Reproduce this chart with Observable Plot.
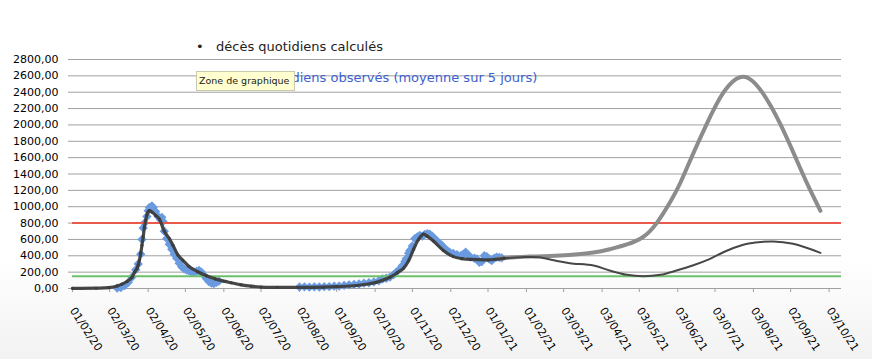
<!DOCTYPE html>
<html><head><meta charset="utf-8">
<script src="https://cdn.jsdelivr.net/npm/d3@7"></script>
<script src="https://cdn.jsdelivr.net/npm/@observablehq/plot@0.6"></script>
<style>
body{margin:0;background:#fff;}
#wrap{position:relative;width:872px;height:359px;overflow:hidden;background:linear-gradient(to bottom,#ffffff 0%,#ffffff 72%,#f2f2f2 100%);font-family:"DejaVu Sans",sans-serif;}
#chart{position:absolute;left:0;top:0;}
.leg{position:absolute;font-size:13px;line-height:16px;white-space:nowrap;}
#tip{position:absolute;left:196px;top:71px;width:95px;height:18px;background:#ffffcf;border:1px solid #c9c9b0;font-size:9.5px;line-height:18px;padding-left:2px;color:#222;white-space:nowrap;box-sizing:content-box;}
</style></head>
<body>
<div id="wrap">
  <div id="chart"></div>
  <div class="leg" style="left:196px;top:39px;color:#222;"><span style="display:inline-block;width:20px;">&#8226;</span>décès quotidiens calculés</div>
  <div class="leg" style="left:196px;top:70px;color:#3d5fcf;"><span style="display:inline-block;width:20px;">&#9670;</span>décès quotidiens observés (moyenne sur 5 jours)</div>
  <div id="tip">Zone de graphique</div>
</div>
<script>
// ---- Axis ticks ----
const xTickDates = ["2020-02-01","2020-03-02","2020-04-02","2020-05-02","2020-06-02","2020-07-02","2020-08-02","2020-09-01","2020-10-02","2020-11-01","2020-12-02","2021-01-01","2021-02-01","2021-03-03","2021-04-03","2021-05-03","2021-06-03","2021-07-03","2021-08-03","2021-09-02","2021-10-03"];
const xTickLabels = ["01/02/20","02/03/20","02/04/20","02/05/20","02/06/20","02/07/20","02/08/20","01/09/20","02/10/20","01/11/20","02/12/20","01/01/21","01/02/21","03/03/21","03/04/21","03/05/21","03/06/21","03/07/21","03/08/21","02/09/21","03/10/21"];
const yTicks = [0,200,400,600,800,1000,1200,1400,1600,1800,2000,2200,2400,2600,2800];
const thresholds = [800, 150];

// ---- Series: décès quotidiens calculés ----
const calcDates = ["2020-02-01","2020-02-20","2020-03-01","2020-03-08","2020-03-12","2020-03-16","2020-03-20","2020-03-22","2020-03-24","2020-03-25","2020-03-26","2020-03-27","2020-03-28","2020-03-29","2020-03-30","2020-03-31","2020-04-01","2020-04-02","2020-04-03","2020-04-05","2020-04-08","2020-04-11","2020-04-15","2020-04-19","2020-04-22","2020-04-26","2020-04-30","2020-05-05","2020-05-12","2020-05-19","2020-05-26","2020-06-02","2020-06-08","2020-06-16","2020-06-24","2020-07-02","2020-07-15","2020-08-01","2020-08-21","2020-09-01","2020-09-17","2020-10-03","2020-10-14","2020-10-20","2020-10-25","2020-10-29","2020-11-02","2020-11-06","2020-11-10","2020-11-13","2020-11-18","2020-11-26","2020-12-04","2020-12-11","2020-12-18","2021-01-01","2021-01-14"];
const calcValues = [2,4,10,30,55,86,138,199,245,290,350,430,530,630,750,830,900,940,954,935,895,850,700,610,530,410,345,270,205,155,118,90,70,45,28,18,14,13,16,22,37,77,138,195,250,340,480,600,665,640,580,465,390,365,355,350,370];

// ---- Projection (calculated, low scenario) ----
const projLowDates = ["2021-01-14","2021-01-28","2021-02-11","2021-02-24","2021-03-08","2021-03-27","2021-04-09","2021-04-23","2021-05-06","2021-05-20","2021-06-02","2021-06-15","2021-06-29","2021-07-13","2021-07-29","2021-08-19","2021-09-04","2021-09-26"];
const projLowValues = [370,383,383,342,310,281,220,167,150,167,220,281,363,465,546,575,546,436];

// ---- Projection (high scenario) ----
const projHighDates = ["2021-01-08","2021-01-20","2021-02-04","2021-02-28","2021-03-27","2021-04-09","2021-04-23","2021-05-06","2021-05-17","2021-05-28","2021-06-05","2021-06-14","2021-06-26","2021-07-10","2021-07-26","2021-08-10","2021-08-24","2021-09-06","2021-09-16","2021-09-26"];
const projHighValues = [365,378,390,403,440,480,540,630,800,1060,1290,1600,2000,2400,2590,2400,2030,1600,1260,950];

// ---- Series: décès quotidiens observés (moyenne sur 5 jours) ----
const obsDates = ["2020-03-08","2020-03-11","2020-03-14","2020-03-17","2020-03-20","2020-03-23","2020-03-25","2020-03-27","2020-03-28","2020-03-29","2020-03-30","2020-04-01","2020-04-02","2020-04-03","2020-04-05","2020-04-06","2020-04-08","2020-04-10","2020-04-12","2020-04-13","2020-04-14","2020-04-15","2020-04-17","2020-04-19","2020-04-21","2020-04-23","2020-04-25","2020-04-27","2020-04-29","2020-05-01","2020-05-03","2020-05-05","2020-05-07","2020-05-09","2020-05-11","2020-05-13","2020-05-15","2020-05-17","2020-05-19","2020-05-21","2020-05-23","2020-05-25","2020-05-27","2020-05-29",
"2020-08-02","2020-08-06","2020-08-10","2020-08-14","2020-08-18","2020-08-22","2020-08-26","2020-08-30","2020-09-03","2020-09-07","2020-09-11","2020-09-15","2020-09-19","2020-09-23","2020-09-27","2020-10-01","2020-10-05","2020-10-08","2020-10-11","2020-10-14","2020-10-17","2020-10-19","2020-10-22","2020-10-24","2020-10-26","2020-10-27","2020-10-29","2020-10-30","2020-11-01","2020-11-03","2020-11-05","2020-11-07","2020-11-09","2020-11-11","2020-11-13","2020-11-15","2020-11-17","2020-11-19","2020-11-21","2020-11-23","2020-11-25","2020-11-27","2020-11-29","2020-12-01","2020-12-04","2020-12-07","2020-12-10","2020-12-12","2020-12-14","2020-12-16","2020-12-18","2020-12-21","2020-12-23","2020-12-25","2020-12-27","2020-12-29","2020-12-31","2021-01-02","2021-01-04","2021-01-06","2021-01-08","2021-01-10","2021-01-12"];
const obsValues = [5,12,35,75,140,230,300,420,600,740,800,880,950,990,1010,990,940,880,840,870,820,700,610,540,480,420,370,310,265,240,225,215,205,200,210,220,200,160,120,85,65,60,75,90,
18,20,16,20,18,22,22,28,30,38,45,50,55,65,70,80,95,118,125,140,170,200,240,280,330,363,430,465,520,610,630,648,640,660,669,665,640,610,580,550,526,490,465,445,430,415,400,420,444,410,383,370,363,320,330,400,390,360,342,370,383,380,375];

// ---- build ----
const parse = d3.utcParse("%Y-%m-%d");
const X = xTickDates.map(parse);
const labelOf = new Map(X.map((d, i) => [+d, xTickLabels[i]]));
const fmtY = v => v.toFixed(2).replace(".", ",");
const rows = (ds, vs) => ds.map((d, i) => ({date: parse(d), value: vs[i]}));
const calc = rows(calcDates, calcValues);
const projLow = rows(projLowDates, projLowValues);
const projHigh = rows(projHighDates, projHighValues);
const obs = rows(obsDates, obsValues);

const chart = Plot.plot({
  width: 872, height: 359,
  marginLeft: 72, marginRight: 31, marginTop: 59, marginBottom: 71,
  style: {background: "transparent", fontFamily: "DejaVu Sans, sans-serif", fontSize: "11px", color: "#000", overflow: "visible"},
  x: {type: "utc", domain: [parse("2020-02-01"), parse("2021-10-13")]},
  y: {domain: [0, 2800]},
  marks: [
    Plot.gridY(yTicks, {stroke: "#a0a0a0", strokeOpacity: 1}),
    Plot.axisY(yTicks, {tickFormat: fmtY, tickSize: 4, tickPadding: 10, label: null, stroke: "#a0a0a0"}),
    Plot.axisX(X, {tickFormat: d => labelOf.get(+d), tickRotate: 57, tickSize: 4, tickPadding: 16, label: null, stroke: "#a0a0a0"}),
    Plot.dot(obs, {x: "date", y: "value", symbol: "diamond2", r: 4.2, fill: "#6a9ae0", stroke: null}),
    Plot.ruleY([thresholds[0]], {stroke: "#ea5a4c", strokeWidth: 2}),
    Plot.ruleY([thresholds[1]], {stroke: "#6cc06c", strokeWidth: 2}),
    Plot.line(projHigh, {x: "date", y: "value", stroke: "#8c8c8c", strokeWidth: 4, curve: "natural"}),
    Plot.line(projLow, {x: "date", y: "value", stroke: "#474747", strokeWidth: 2, curve: "catmull-rom"}),
    Plot.dot(calc, {x: "date", y: "value", r: 1.5, fill: "#333", stroke: null}),
    Plot.line(calc, {x: "date", y: "value", stroke: "#3d3d3d", strokeWidth: 3.2, strokeOpacity: 0.95, curve: "catmull-rom"})
  ]
});
document.getElementById("chart").appendChild(chart);
</script>
</body></html>
